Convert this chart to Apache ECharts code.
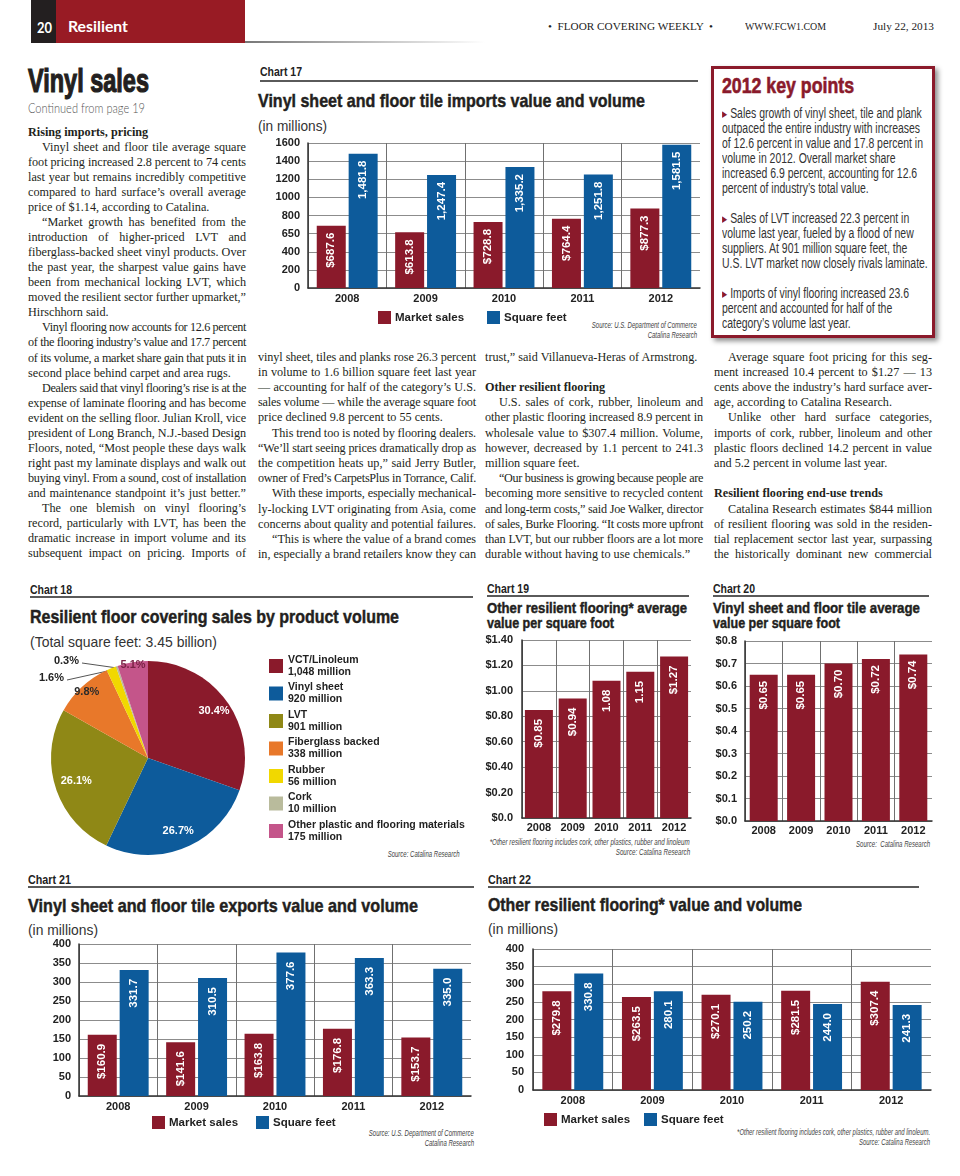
<!DOCTYPE html>
<html><head><meta charset="utf-8">
<script src="https://cdn.jsdelivr.net/npm/echarts@6/dist/echarts.min.js"></script>
<style>
html,body{margin:0;padding:0;background:#fff;}
body{width:960px;height:1176px;position:relative;overflow:hidden;}
.a{position:absolute;white-space:nowrap;}
.chart{position:absolute;}
</style></head><body>
<div style="position:absolute;left:31px;top:0;width:25px;height:43px;background:#231f20"></div>
<div style="position:absolute;left:56px;top:0;width:189px;height:43px;background:#981b24"></div>
<div style="position:absolute;left:245px;top:41px;width:240px;height:2px;background:linear-gradient(to right,#777,rgba(140,140,140,0))"></div>
<div style="position:absolute;left:711px;top:66px;width:218px;height:266px;border:3px solid #8b1a2b;box-shadow:3px 3px 5px rgba(0,0,0,.45)"></div>
<script>
// ---------------- DATA ----------------
const years = ['2008','2009','2010','2011','2012'];
// Chart 17: imports
const imp17Sales = [687.6, 613.8, 728.8, 764.4, 877.3];
const imp17SqFt = [1481.8, 1247.4, 1335.2, 1251.8, 1581.5];
const yLabels17 = ['0','200','400','650','800','1000','1200','1400','1600'];
// Chart 18: product volume (million sq ft)
const pieNames = ['VCT/Linoleum','Vinyl sheet','LVT','Fiberglass backed','Rubber','Cork','Other plastic and flooring materials'];
const pieValues = [1048, 920, 901, 338, 56, 10, 175];
// Chart 19: other resilient avg value
const avg19 = [0.85, 0.94, 1.08, 1.15, 1.27];
const avg19Labels = ['$0.85','$0.94','1.08','1.15','$1.27'];
const yLabels19 = ['$0.0','$0.20','$0.40','$0.60','$0.80','$1.00','$1.20','$1.40'];
// Chart 20: vinyl avg value
const avg20 = [0.65, 0.65, 0.70, 0.72, 0.74];
const yLabels20 = ['$0.0','$0.1','$0.2','$0.3','$0.4','$0.5','$0.6','$0.7','$0.8'];
// Chart 21: exports
const exp21Sales = [160.9, 141.6, 163.8, 176.8, 153.7];
const exp21SqFt = [331.7, 310.5, 377.6, 363.3, 335.0];
// Chart 22: other resilient value/volume
const oth22Sales = [279.8, 263.5, 270.1, 281.5, 307.4];
const oth22SqFt = [330.8, 280.1, 250.2, 244.0, 241.3];
const yLabels400 = ['0','50','100','150','200','250','300','350','400'];

// ---------------- STYLE ----------------
const NAR = "'Liberation Sans',Arial,sans-serif";
const SANS = "'Liberation Sans',Arial,sans-serif";
const SERIF = "'Liberation Serif','Times New Roman',serif";
const GILL = "Lato,'Open Sans',sans-serif";
const RED = '#8a1a2b', BLUE = '#0d5b9b';
const pieColors = ['#8a1a2b','#0d5b9b','#8f8816','#e8782a','#f1d800','#b9bb9c','#c4558a'];

function T(txt, o) {
  const d = document.createElement('div'); d.className = 'a';
  d.innerHTML = txt;
  const fs = o.fs, lh = o.lh || fs;
  Object.assign(d.style, {fontSize: fs+'px', lineHeight: lh+'px', top: (o.y-lh/2)+'px', fontFamily: o.ff||NAR,
    fontWeight: o.b?'bold':(o.fw||'normal'), fontStyle: o.it?'italic':'normal', color: o.c||'#222'});
  if (o.k) d.style.webkitTextStroke = o.k + 'px ' + (o.c||'#222');
  if (o.r != null) { d.style.right = (960-o.r)+'px'; d.style.transformOrigin = '100% 50%'; }
  else { d.style.left = o.x+'px'; d.style.transformOrigin = '0 50%'; }
  document.body.appendChild(d);
  let s = o.sc || 1;
  if (o.w) s = o.w / d.getBoundingClientRect().width;
  if (s !== 1) d.style.transform = 'scaleX('+s+')';
  return s;
}
function rule(x1, x2, y) {
  const d = document.createElement('div');
  Object.assign(d.style, {position:'absolute', left:x1+'px', top:(y-1)+'px', width:(x2-x1)+'px', height:'2px', background:'#5a5a5a'});
  document.body.appendChild(d);
}

// ---------------- HEADER / HEADLINE ----------------
T('20', {x:37, y:27, fs:15, b:1, c:'#fff', ff:GILL, w:15});
T('Resilient', {x:68, y:27, fs:15.5, b:1, c:'#fff', ff:GILL, w:60});
T('•&nbsp; FLOOR COVERING WEEKLY &nbsp;•', {x:548, y:27, fs:10.5, ff:SERIF, w:165});
T('WWW.FCW1.COM', {x:745, y:27, fs:10.5, ff:SERIF, w:81});
T('July 22, 2013', {x:873, y:27, fs:10.5, ff:SERIF, w:61});
T('Vinyl sales', {x:28, y:80, fs:33, b:1, c:'#231f20', w:121, k:1.2});
T('Continued from page 19', {x:28, y:109, fs:13.5, ff:GILL, fw:300, c:'#555', w:117});

// ---------------- BODY TEXT ----------------
const BODYFS = 12.2, IND = 14;
function line(txt, x, yc, W, f) {
  const ind = f.includes('i') ? IND : 0;
  const d = document.createElement('div'); d.className = 'a';
  Object.assign(d.style, {left:(x+ind)+'px', top:(yc-7.5)+'px', lineHeight:'15px', fontSize:BODYFS+'px', fontFamily:SERIF, color:'#231f20', fontWeight: f.includes('b')?'bold':'normal'});
  const s = document.createElement('span'); s.textContent = txt; d.appendChild(s); document.body.appendChild(d);
  const avail = W - ind, w = s.getBoundingClientRect().width;
  if (f.includes('j') && w < avail) { const n = (txt.match(/ /g)||[]).length; if (n) s.style.wordSpacing = ((avail-w)/n)+'px'; }
  else if (w > avail) s.style.letterSpacing = ((avail-w)/txt.length)+'px';
}
function column(lines, x, y0, pitch, W) {
  lines.forEach((l, k) => { if (l) line(l[0], x, y0 + k*pitch, W, l[1]); });
}
const col1 = [
['Rising imports, pricing','b'],
['Vinyl sheet and floor tile average square','ij'],
['foot pricing increased 2.8 percent to 74 cents','j'],
['last year but remains incredibly competitive','j'],
['compared to hard surface’s overall average','j'],
['price of $1.14, according to Catalina.',''],
['“Market growth has benefited from the','ij'],
['introduction of higher-priced LVT and','j'],
['fiberglass-backed sheet vinyl products. Over','j'],
['the past year, the sharpest value gains have','j'],
['been from mechanical locking LVT, which','j'],
['moved the resilient sector further upmarket,”','j'],
['Hirschhorn said.',''],
['Vinyl flooring now accounts for 12.6 percent','ij'],
['of the flooring industry’s value and 17.7 percent','j'],
['of its volume, a market share gain that puts it in','j'],
['second place behind carpet and area rugs.',''],
['Dealers said that vinyl flooring’s rise is at the','ij'],
['expense of laminate flooring and has become','j'],
['evident on the selling floor. Julian Kroll, vice','j'],
['president of Long Branch, N.J.-based Design','j'],
['Floors, noted, “Most people these days walk','j'],
['right past my laminate displays and walk out','j'],
['buying vinyl. From a sound, cost of installation','j'],
['and maintenance standpoint it’s just better.”','j'],
['The one blemish on vinyl flooring’s','ij'],
['record, particularly with LVT, has been the','j'],
['dramatic increase in import volume and its','j'],
['subsequent impact on pricing. Imports of','j']];
const col2 = [
['vinyl sheet, tiles and planks rose 26.3 percent','j'],
['in volume to 1.6 billion square feet last year','j'],
['— accounting for half of the category’s U.S.','j'],
['sales volume — while the average square foot','j'],
['price declined 9.8 percent to 55 cents.',''],
['This trend too is noted by flooring dealers.','ij'],
['“We’ll start seeing prices dramatically drop as','j'],
['the competition heats up,” said Jerry Butler,','j'],
['owner of Fred’s CarpetsPlus in Torrance, Calif.','j'],
['With these imports, especially mechanical-','ij'],
['ly-locking LVT originating from Asia, come','j'],
['concerns about quality and potential failures.','j'],
['“This is where the value of a brand comes','ij'],
['in, especially a brand retailers know they can','j']];
const col3 = [
['trust,” said Villanueva-Heras of Armstrong.',''],
null,
['Other resilient flooring','b'],
['U.S. sales of cork, rubber, linoleum and','ij'],
['other plastic flooring increased 8.9 percent in','j'],
['wholesale value to $307.4 million. Volume,','j'],
['however, decreased by 1.1 percent to 241.3','j'],
['million square feet.',''],
['“Our business is growing because people are','ij'],
['becoming more sensitive to recycled content','j'],
['and long-term costs,” said Joe Walker, director','j'],
['of sales, Burke Flooring. “It costs more upfront','j'],
['than LVT, but our rubber floors are a lot more','j'],
['durable without having to use chemicals.”','']];
const col4 = [
['Average square foot pricing for this seg-','ij'],
['ment increased 10.4 percent to $1.27 — 13','j'],
['cents above the industry’s hard surface aver-','j'],
['age, according to Catalina Research.',''],
['Unlike other hard surface categories,','ij'],
['imports of cork, rubber, linoleum and other','j'],
['plastic floors declined 14.2 percent in value','j'],
['and 5.2 percent in volume last year.',''],
null,
['Resilient flooring end-use trends','b'],
['Catalina Research estimates $844 million','ij'],
['of resilient flooring was sold in the residen-','j'],
['tial replacement sector last year, surpassing','j'],
['the historically dominant new commercial','j']];
column(col1, 28, 132, 15.07, 218);
column(col2, 258, 357, 15.2, 218);
column(col3, 485, 357, 15.2, 218);
column(col4, 714, 357, 15.2, 218);

// ---------------- KEY POINTS ----------------
T('2012 key points', {x:722, y:85.5, fs:22, b:1, c:RED, w:132, k:0.6});
const TRI = '<span style="color:#8b1a2b;font-size:9px;vertical-align:1px">&#9654;</span> ';
const keyScale = T('of 12.6 percent in value and 17.8 percent in', {x:722, y:143, fs:14, lh:15, c:'#333', w:201});
const keyLines = [
 [TRI+'Sales growth of vinyl sheet, tile and plank',113],
 ['outpaced the entire industry with increases',128],
 ['volume in 2012. Overall market share',158],
 ['increased 6.9 percent, accounting for 12.6',173],
 ['percent of industry’s total value.',188],
 [TRI+'Sales of LVT increased 22.3 percent in',218],
 ['volume last year, fueled by a flood of new',233],
 ['suppliers. At 901 million square feet, the',248],
 ['U.S. LVT market now closely rivals laminate.',263],
 [TRI+'Imports of vinyl flooring increased 23.6',293],
 ['percent and accounted for half of the',308],
 ['category’s volume last year.',323]];
keyLines.forEach(k => T(k[0], {x:722, y:k[1], fs:14, lh:15, c:'#333', sc:keyScale}));

// ---------------- CHART HEADINGS ----------------
const HK = 0.45;
T('Chart 17', {x:260, y:72, fs:12.5, b:1, w:42}); rule(260, 698, 81);
T('Vinyl sheet and floor tile imports value and volume', {x:258, y:101.5, fs:18.5, b:1, c:'#231f20', w:387, k:HK});
T('(in millions)', {x:258, y:125, fs:15, ff:SANS, c:'#333', w:69});
let s17 = T('<i>Source: U.S. Department of Commerce</i>', {r:697, y:325, fs:9.5, c:'#444', w:105});
T('<i>Catalina Research</i>', {r:697, y:335, fs:9.5, c:'#444', sc:s17});

T('Chart 18', {x:30, y:590, fs:12.5, b:1, w:42}); rule(30, 473, 597);
T('Resilient floor covering sales by product volume', {x:30, y:617, fs:18.5, b:1, c:'#231f20', w:369, k:HK});
T('(Total square feet: 3.45 billion)', {x:30, y:641, fs:15, ff:SANS, c:'#333', w:187});
T('<i>Source: Catalina Research</i>', {r:460, y:854, fs:9.5, c:'#444', sc:s17});

T('Chart 19', {x:487, y:589, fs:12.5, b:1, w:42}); rule(487, 689, 596);
T('Other resilient flooring* average', {x:487, y:608, fs:15.5, b:1, c:'#231f20', w:200, k:HK});
T('value per square foot', {x:487, y:623, fs:15.5, b:1, c:'#231f20', w:127, k:HK});
let s19 = T('<i>*Other resilient flooring includes cork, other plastics, rubber and linoleum</i>', {r:690, y:842, fs:8.8, c:'#444', w:200});
T('<i>Source: Catalina Research</i>', {r:690, y:852, fs:8.8, c:'#444', sc:s19});

T('Chart 20', {x:713, y:589, fs:12.5, b:1, w:42}); rule(713, 929, 596);
T('Vinyl sheet and floor tile average', {x:713, y:608, fs:15.5, b:1, c:'#231f20', w:207, k:HK});
T('value per square foot', {x:713, y:623, fs:15.5, b:1, c:'#231f20', w:127, k:HK});
T('<i>Source:&nbsp; Catalina Research</i>', {r:930, y:844, fs:9, c:'#444', w:74});

T('Chart 21', {x:28, y:880, fs:12.5, b:1, w:43}); rule(28, 474, 887);
T('Vinyl sheet and floor tile exports value and volume', {x:28, y:906, fs:18.5, b:1, c:'#231f20', w:390, k:HK});
T('(in millions)', {x:28, y:929, fs:15, ff:SANS, c:'#333', w:70});
T('<i>Source: U.S. Department of Commerce</i>', {r:474, y:1133, fs:9.5, c:'#444', sc:s17});
T('<i>Catalina Research</i>', {r:474, y:1143, fs:9.5, c:'#444', sc:s17});

T('Chart 22', {x:488, y:880, fs:12.5, b:1, w:43}); rule(488, 919, 887);
T('Other resilient flooring* value and volume', {x:488, y:905.5, fs:18.5, b:1, c:'#231f20', w:314, k:HK});
T('(in millions)', {x:488, y:928, fs:15, ff:SANS, c:'#333', w:70});
let s22 = T('<i>*Other resilient flooring includes cork, other plastics, rubber and linoleum.</i>', {r:930, y:1132, fs:8.8, c:'#444', w:193});
T('<i>Source: Catalina Research</i>', {r:930, y:1142, fs:8.8, c:'#444', sc:s22});

// ---------------- ECHARTS ----------------
function box(b) {
  const el = document.createElement('div'); el.className = 'chart';
  Object.assign(el.style, {left:b[0]+'px', top:b[1]+'px', width:b[2]+'px', height:b[3]+'px'});
  document.body.appendChild(el);
  return echarts.init(el, null, {renderer:'canvas'});
}
// vertical category separators: grey, none at the right edge
const sepColors = years.map(() => '#707070').concat(['rgba(0,0,0,0)']);
function bars(b, o) {
  const ch = box(b);
  ch.setOption({
    animation:false,
    grid:o.grid,
    legend:(o.legends||[]).map(lg => ({data:[lg.name], left:lg.left, top:lg.top, padding:0, itemWidth:13, itemHeight:13, itemGap:0, icon:'rect', selectedMode:false,
      textStyle:{fontFamily:NAR, fontWeight:'bold', fontSize:11.5, color:'#222', padding:[0,0,0,-1]}})),
    xAxis:{type:'category', data:years, axisTick:{show:false},
      axisLine:{lineStyle:{color:'#333', width:1.5}},
      splitLine:{show:true, interval:0, lineStyle:{color:sepColors, width:1}},
      axisLabel:{interval:0, fontFamily:NAR, fontWeight:'bold', fontSize:11, color:'#222', margin:o.xMargin}},
    yAxis:{type:'value', min:o.min, max:o.max, interval:o.interval,
      axisLine:{show:true, lineStyle:{color:'#333', width:1.5}}, axisTick:{show:false},
      splitLine:{lineStyle:{color:'#8c8c8c', width:1}},
      axisLabel:{fontFamily:NAR, fontWeight:'bold', fontSize:11, color:'#222', margin:o.yMargin,
        formatter:v => o.yLabels[Math.round((v-o.min)/o.interval)]}},
    series:o.series.map(s => ({type:'bar', name:s.name, data:s.data, barWidth:o.barWidth, barGap:o.barGap,
      itemStyle:{color:s.color},
      label:{show:true, position:'insideTop', rotate:90, align:'right', verticalAlign:'middle', distance:o.labelDist,
        color:'#fff', fontFamily:NAR, fontWeight:'bold', fontSize:o.labelFs, formatter:p => s.labels[p.dataIndex]}}))
  });
}
const money1 = v => '$' + v.toFixed(1);
const thou1 = v => v.toLocaleString('en-US', {minimumFractionDigits:1, maximumFractionDigits:1});

// Chart 17
bars([255,130,450,215], {
  grid:{left:53, top:13, width:392, height:145},
  min:0, max:1600, interval:200, yLabels:yLabels17, xMargin:5, yMargin:8,
  barWidth:29, barGap:'10%', labelDist:7, labelFs:11.5,
  legends:[{name:'Market sales', left:123, top:181}, {name:'Square feet', left:232, top:181}],
  series:[{name:'Market sales', data:imp17Sales, color:RED, labels:imp17Sales.map(money1)},
          {name:'Square feet', data:imp17SqFt, color:BLUE, labels:imp17SqFt.map(thou1)}]
});
// Chart 19
bars([480,630,230,235], {
  grid:{left:42, top:10, width:169, height:178},
  min:0, max:1.4, interval:0.2, yLabels:yLabels19, xMargin:4, yMargin:9,
  barWidth:28, barGap:'10%', labelDist:9, labelFs:11.5,
  series:[{name:'Value', data:avg19, color:RED, labels:avg19Labels}]
});
// Chart 20
bars([705,630,255,235], {
  grid:{left:40, top:11, width:187, height:180},
  min:0, max:0.8, interval:0.1, yLabels:yLabels20, xMargin:4, yMargin:8,
  barWidth:28, barGap:'10%', labelDist:6, labelFs:11.5,
  series:[{name:'Value', data:avg20, color:RED, labels:avg20.map(v => '$' + v.toFixed(2))}]
});
// Chart 21
bars([0,935,480,215], {
  grid:{left:79, top:9, width:392, height:152},
  min:0, max:400, interval:50, yLabels:yLabels400, xMargin:5, yMargin:8,
  barWidth:29, barGap:'10%', labelDist:9, labelFs:11.5,
  legends:[{name:'Market sales', left:152, top:181}, {name:'Square feet', left:256, top:181}],
  series:[{name:'Market sales', data:exp21Sales, color:RED, labels:exp21Sales.map(money1)},
          {name:'Square feet', data:exp21SqFt, color:BLUE, labels:exp21SqFt.map(thou1)}]
});
// Chart 22
bars([480,935,480,215], {
  grid:{left:53, top:14, width:398, height:141},
  min:0, max:400, interval:50, yLabels:yLabels400, xMargin:5, yMargin:9,
  barWidth:29, barGap:'10%', labelDist:9, labelFs:11.5,
  legends:[{name:'Market sales', left:64, top:178}, {name:'Square feet', left:164, top:178}],
  series:[{name:'Market sales', data:oth22Sales, color:RED, labels:oth22Sales.map(money1)},
          {name:'Square feet', data:oth22SqFt, color:BLUE, labels:oth22SqFt.map(thou1)}]
});

// Chart 18 pie
(function(){
  const ch = box([0,650,480,215]);
  const C = [148,108], R = 97;
  const total = pieValues.reduce((a,b) => a+b, 0);
  // label placement styles: radial push factor for inside labels, or outside label anchor
  const pieLabelStyle = [
    {f:1.57, c:'#fff'}, {f:1.53, c:'#fff'}, {f:1.46, c:'#fff'}, {f:1.75, c:'#2b2b2b'},
    {out:[64,28], c:'#222'}, {out:[79,11], c:'#222'}, {f:1.83, c:'#7a2346'}];
  const cum = []; pieValues.reduce((a,v,i) => (cum[i] = a, a+v), 0);
  ch.setOption({
    animation:false,
    legend:{orient:'vertical', left:269, top:4, padding:0, itemWidth:14, itemHeight:14, itemGap:3.5, icon:'rect', selectedMode:false,
      data:pieNames,
      formatter:n => n + '\n' + pieValues[pieNames.indexOf(n)].toLocaleString('en-US') + ' million',
      textStyle:{fontFamily:NAR, fontWeight:'bold', fontSize:10.5, lineHeight:12, color:'#222'}},
    series:[{type:'pie', center:C, radius:R, startAngle:90, clockwise:true, avoidLabelOverlap:false,
      data:pieNames.map((n,i) => ({name:n, value:pieValues[i], itemStyle:{color:pieColors[i]},
        label:{position: pieLabelStyle[i].out ? 'outside' : 'inside', color:pieLabelStyle[i].c},
        labelLine:{show: !!pieLabelStyle[i].out, length:5, length2:5, lineStyle:{color:'#555', width:1}}})),
      label:{show:true, fontFamily:NAR, fontWeight:'bold', fontSize:11,
        formatter:p => (p.value/total*100).toFixed(1) + '%'},
      labelLayout:function(p){
        const st = pieLabelStyle[p.dataIndex];
        if (st.out) {
          const th = 2*Math.PI*(cum[p.dataIndex] + pieValues[p.dataIndex]/2)/total;
          const anc = [C[0] + R*0.98*Math.sin(th), C[1] - R*0.98*Math.cos(th)];
          const e = [st.out[0]+3, st.out[1]+2];
          return {x:st.out[0], y:st.out[1], align:'right', verticalAlign:'middle', labelLinePoints:[anc, e, e]};
        }
        const r = p.labelRect, lx = r.x + r.width/2, ly = r.y + r.height/2;
        return {dx:(lx-C[0])*(st.f-1), dy:(ly-C[1])*(st.f-1)};
      }}]
  });
})();
</script>
</body></html>
